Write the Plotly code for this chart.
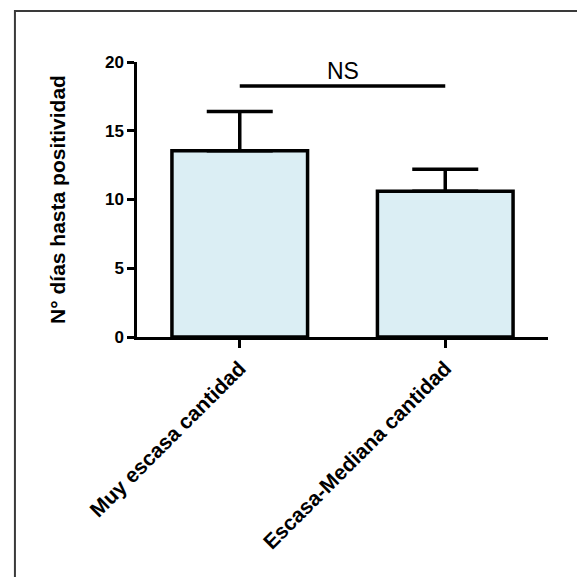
import plotly.graph_objects as go

categories = ["Muy escasa cantidad", "Escasa-Mediana cantidad"]
means = [13.55, 10.6]
sem_upper = [2.85, 1.6]
sig_level = 18.25
sig_label = "NS"
y_title = "N° días hasta positividad"
y_ticks = [0, 5, 10, 15, 20]

FONT = "Liberation Sans, Arial, sans-serif"

fig = go.Figure()
fig.add_trace(go.Bar(
    x=[0, 1], y=means, width=0.66,
    marker=dict(color="#dbeef4", line=dict(color="black", width=3.5)),
    error_y=dict(type="data", symmetric=False, array=sem_upper,
                 arrayminus=[0, 0], color="black", thickness=3.5, width=33),
    showlegend=False, hoverinfo="skip",
))
fig.add_trace(go.Scatter(
    x=[0, 1], y=[sig_level, sig_level], mode="lines",
    line=dict(color="black", width=3.5), showlegend=False, hoverinfo="skip",
))
fig.add_annotation(x=0.5, y=sig_level, xref="x", yref="y", text=sig_label,
                   showarrow=False, yanchor="bottom", yshift=0,
                   font=dict(family=FONT, size=23, color="black"))

fig.update_layout(
    width=577, height=569,
    margin=dict(l=129, r=37, t=54, b=240, autoexpand=False),
    paper_bgcolor="white", plot_bgcolor="white",
    font=dict(family=FONT, color="black"),
    shapes=[dict(type="rect", xref="paper", yref="paper",
                 x0=-0.297, x1=1.0815, y0=-1.2, y1=1.1855,
                 line=dict(color="#3a3a3a", width=2), layer="above")],
)
fig.update_xaxes(
    range=[-0.5, 1.5], tickmode="array", tickvals=[0, 1], ticktext=categories,
    tickangle=-45, ticks="outside", ticklen=8, tickwidth=2.5, tickcolor="black",
    showline=True, linewidth=2.5, linecolor="black", showgrid=False, zeroline=False,
    tickfont=dict(family=FONT, size=21, color="black", weight="bold"),
)
fig.update_yaxes(
    range=[0, 20], tickmode="array", tickvals=y_ticks,
    ticks="outside", ticklen=7, tickwidth=2.5, tickcolor="black",
    showline=True, linewidth=2.5, linecolor="black", showgrid=False, zeroline=False,
    tickfont=dict(family=FONT, size=17, color="black", weight="bold"),
    title=dict(text=y_title, standoff=34,
               font=dict(family=FONT, size=21, color="black", weight="bold")),
)

fig.write_html("out.html")
